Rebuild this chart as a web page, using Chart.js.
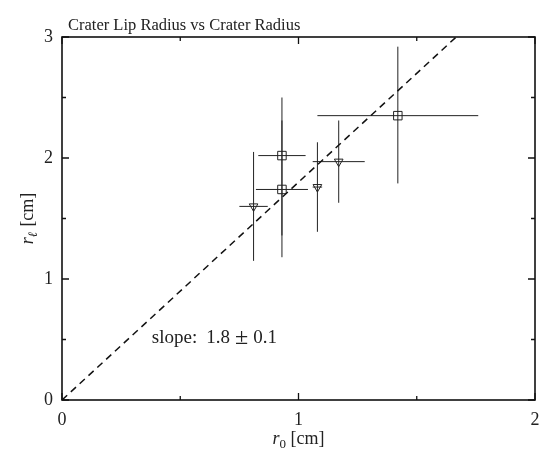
<!DOCTYPE html>
<html>
<head>
<meta charset="utf-8">
<script src="https://cdn.jsdelivr.net/npm/chart.js@4/dist/chart.umd.min.js"></script>
<style>
  html, body { margin: 0; padding: 0; background: #fff; }
  canvas { display: block; }
</style>
</head>
<body>
<canvas id="chart" width="542" height="456"></canvas>
<script>
// squares
var sqX = [0.93, 0.93, 1.42];
var sqY = [2.02, 1.74, 2.35];
var sqXErr = [0.10, 0.11, 0.34];
var sqYErrLo = [0.66, 0.56, 0.56];
var sqYErrHi = [0.48, 0.57, 0.57];

// downward triangles
var triX = [0.81, 1.08, 1.17];
var triY = [1.60, 1.76, 1.97];
var triXErr = [0.06, 0.02, 0.11];
var triYErr = [0.45, 0.37, 0.34];

// fit line, slope 1.8
var fitX = [0, 2];
var fitY = [0, 3.6];

var xTicks = [0, 0.5, 1, 1.5, 2];
var yTicks = [0, 0.5, 1, 1.5, 2, 2.5, 3];
var xTickLabels = ['0', '', '1', '', '2'];
var yTickLabels = ['0', '', '1', '', '2', '', '3'];

var titleText = 'Crater Lip Radius vs Crater Radius';
var slopeParts = ['slope:', '1.8', '\u00b1', '0.1'];

const FONT = '"Liberation Serif", "DejaVu Serif", serif';

function pts(xs, ys) {
    return xs.map((x, i) => ({ x: x, y: ys[i] }));
}

const errorBars = {
    id: 'errorBars',
    beforeDatasetsDraw(chart) {
        const ctx = chart.ctx;
        const sx = chart.scales.x, sy = chart.scales.y;
        ctx.save();
        ctx.strokeStyle = '#222';
        ctx.lineWidth = 1;
        function bar(x, y, xe, ylo, yhi) {
            ctx.beginPath();
            ctx.moveTo(sx.getPixelForValue(x - xe), sy.getPixelForValue(y));
            ctx.lineTo(sx.getPixelForValue(x + xe), sy.getPixelForValue(y));
            ctx.moveTo(sx.getPixelForValue(x), sy.getPixelForValue(y - ylo));
            ctx.lineTo(sx.getPixelForValue(x), sy.getPixelForValue(y + yhi));
            ctx.stroke();
        }
        sqX.forEach((x, i) => bar(x, sqY[i], sqXErr[i], sqYErrLo[i], sqYErrHi[i]));
        triX.forEach((x, i) => bar(x, triY[i], triXErr[i], triYErr[i], triYErr[i]));
        ctx.restore();
    }
};

const frame = {
    id: 'frame',
    afterDraw(chart) {
        const ctx = chart.ctx;
        const a = chart.chartArea;
        const sx = chart.scales.x, sy = chart.scales.y;
        ctx.save();
        ctx.strokeStyle = '#111';
        ctx.lineWidth = 1.6;
        ctx.strokeRect(a.left, a.top, a.right - a.left, a.bottom - a.top);
        ctx.lineWidth = 1.3;
        ctx.beginPath();
        xTicks.forEach((v, i) => {
            const p = sx.getPixelForValue(v);
            const len = xTickLabels[i] ? 7 : 4;
            ctx.moveTo(p, a.bottom); ctx.lineTo(p, a.bottom - len);
            ctx.moveTo(p, a.top); ctx.lineTo(p, a.top + len);
        });
        yTicks.forEach((v, i) => {
            const p = sy.getPixelForValue(v);
            const len = yTickLabels[i] ? 7 : 4;
            ctx.moveTo(a.left, p); ctx.lineTo(a.left + len, p);
            ctx.moveTo(a.right, p); ctx.lineTo(a.right - len, p);
        });
        ctx.stroke();

        // tick labels
        ctx.fillStyle = '#222';
        ctx.font = '18px ' + FONT;
        ctx.textAlign = 'center';
        ctx.textBaseline = 'alphabetic';
        xTicks.forEach((v, i) => {
            if (xTickLabels[i]) ctx.fillText(xTickLabels[i], sx.getPixelForValue(v), a.bottom + 25);
        });
        ctx.textAlign = 'right';
        ctx.textBaseline = 'middle';
        yTicks.forEach((v, i) => {
            if (yTickLabels[i]) ctx.fillText(yTickLabels[i], a.left - 9, sy.getPixelForValue(v));
        });

        // title
        ctx.textAlign = 'left';
        ctx.textBaseline = 'alphabetic';
        ctx.font = '16.5px ' + FONT;
        ctx.fillText(titleText, a.left + 6, a.top - 7);

        // slope note, with a larger plus-minus sign
        let sxp = sx.getPixelForValue(0.38);
        const sy0 = sy.getPixelForValue(0.47);
        const gaps = [9, 5, 5];
        slopeParts.forEach((t, i) => {
            ctx.font = (t === '\u00b1' ? '24px ' : '19px ') + FONT;
            ctx.fillText(t, sxp, sy0 + (t === '\u00b1' ? 1 : 0));
            sxp += ctx.measureText(t).width + (gaps[i] || 0);
        });

        // axis titles: r_0 [cm], r_l [cm]
        function mathLabel(sub) {
            ctx.font = 'italic 18px ' + FONT;
            const w1 = ctx.measureText('r').width;
            ctx.font = '13px ' + FONT;
            const w2 = ctx.measureText(sub).width;
            ctx.font = '18px ' + FONT;
            const w3 = ctx.measureText(' [cm]').width;
            const total = w1 + w2 + w3;
            let x = -total / 2;
            ctx.textAlign = 'left';
            ctx.font = 'italic 18px ' + FONT;
            ctx.fillText('r', x, 0); x += w1;
            ctx.font = (sub === '\u2113' ? 'italic ' : '') + '13px ' + FONT;
            ctx.fillText(sub, x, 4); x += w2;
            ctx.font = '18px ' + FONT;
            ctx.fillText(' [cm]', x, 0);
        }
        ctx.save();
        ctx.translate((a.left + a.right) / 2, a.bottom + 44);
        mathLabel('0');
        ctx.restore();

        ctx.save();
        ctx.translate(a.left - 29, (a.top + a.bottom) / 2);
        ctx.rotate(-Math.PI / 2);
        mathLabel('\u2113');
        ctx.restore();

        ctx.restore();
    }
};

new Chart(document.getElementById('chart'), {
    type: 'scatter',
    data: {
        datasets: [
            {
                type: 'line',
                data: pts(fitX, fitY),
                borderColor: '#111',
                borderWidth: 1.5,
                borderDash: [7, 5],
                pointRadius: 0,
                fill: false
            },
            {
                data: pts(sqX, sqY),
                pointStyle: 'rect',
                pointRadius: 6,
                backgroundColor: 'rgba(0,0,0,0)',
                borderColor: '#222',
                borderWidth: 1
            },
            {
                data: pts(triX, triY),
                pointStyle: 'triangle',
                rotation: 180,
                pointRadius: 5,
                backgroundColor: 'rgba(0,0,0,0)',
                borderColor: '#222',
                borderWidth: 1
            }
        ]
    },
    options: {
        responsive: false,
        devicePixelRatio: 1,
        animation: false,
        layout: { padding: { left: 62, right: 2, top: 37, bottom: 56 } },
        plugins: { legend: { display: false }, tooltip: { enabled: false }, title: { display: false } },
        scales: {
            x: {
                type: 'linear', min: 0, max: 2,
                ticks: { display: false },
                grid: { display: false },
                border: { display: false },
                afterFit: s => { s.height = 0; }
            },
            y: {
                type: 'linear', min: 0, max: 3,
                ticks: { display: false },
                grid: { display: false },
                border: { display: false },
                afterFit: s => { s.width = 0; }
            }
        }
    },
    plugins: [errorBars, frame]
});
</script>
</body>
</html>
